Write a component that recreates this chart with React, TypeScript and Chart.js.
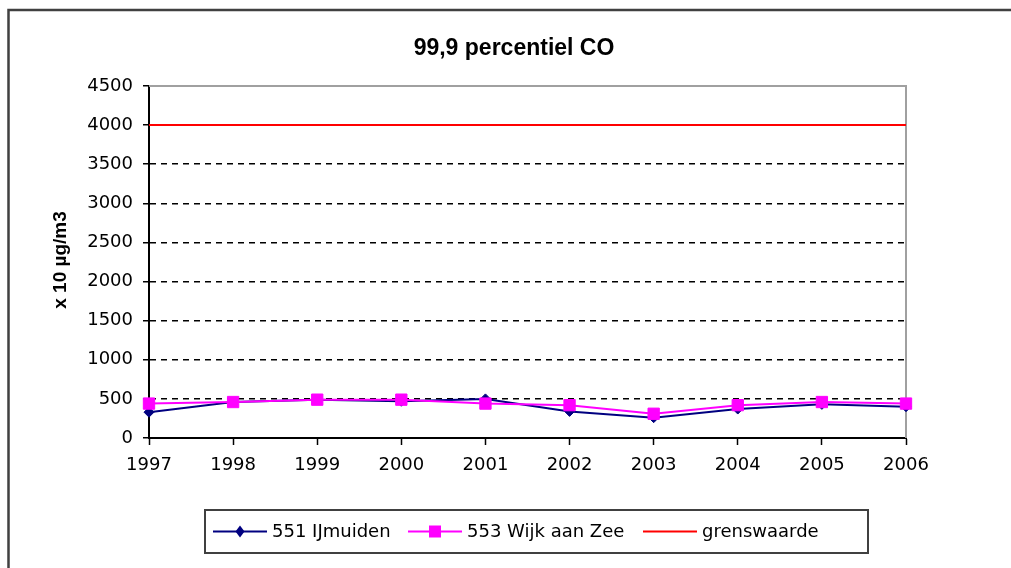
import React, { useEffect, useRef } from "react";
import { Chart, registerables } from "chart.js";

Chart.register(...registerables);

const years = ["1997", "1998", "1999", "2000", "2001", "2002", "2003", "2004", "2005", "2006"];
const ijmuiden = [330, 460, 490, 470, 500, 340, 260, 370, 430, 400];
const wijkAanZee = [440, 460, 490, 490, 440, 420, 310, 420, 460, 440];
const grenswaarde = [4000, 4000, 4000, 4000, 4000, 4000, 4000, 4000, 4000, 4000];
const yTickValues = [0, 500, 1000, 1500, 2000, 2500, 3000, 3500, 4000, 4500];

const chartTitle = "99,9 percentiel CO";
const yAxisTitle = "x 10 µg/m3";

const TICK_FONT = '"DejaVu Sans"';

const decorPlugin = {
  id: "decor",
  beforeDraw(chart: any) {
    const { ctx, width, height } = chart;
    ctx.save();
    ctx.fillStyle = "#ffffff";
    ctx.fillRect(0, 0, width, height);
    ctx.restore();
  },
  beforeDatasetsDraw(chart: any) {
    const { ctx, chartArea: a } = chart;
    ctx.save();
    ctx.strokeStyle = "#a0a0a0";
    ctx.lineWidth = 2;
    ctx.beginPath();
    ctx.moveTo(a.left, a.top);
    ctx.lineTo(a.right, a.top);
    ctx.lineTo(a.right, a.bottom);
    ctx.stroke();
    ctx.restore();
  },
  afterDraw(chart: any) {
    const { ctx, width, height, chartArea: a } = chart;
    ctx.save();
    // outer frame (top and left edges visible)
    ctx.strokeStyle = "#404040";
    ctx.lineWidth = 2.5;
    ctx.beginPath();
    ctx.moveTo(8.5, height + 2);
    ctx.lineTo(8.5, 10);
    ctx.lineTo(width + 2, 10);
    ctx.stroke();

    // title
    ctx.fillStyle = "#000";
    ctx.font = 'bold 23px "Liberation Sans"';
    ctx.textAlign = "center";
    ctx.textBaseline = "middle";
    ctx.fillText(chartTitle, 514, 49);

    // y axis title
    ctx.save();
    ctx.translate(61, (a.top + a.bottom) / 2 - 2);
    ctx.rotate(-Math.PI / 2);
    ctx.font = 'bold 19px "Liberation Sans"';
    ctx.fillText(yAxisTitle, 0, 0);
    ctx.restore();

    // legend
    const box = { left: 205, top: 510, right: 868, bottom: 553 };
    ctx.strokeStyle = "#404040";
    ctx.lineWidth = 2;
    ctx.strokeRect(box.left, box.top, box.right - box.left, box.bottom - box.top);
    const itemX = [213, 408, 643];
    const cy = (box.top + box.bottom) / 2;
    const lineLen = 54;
    ctx.font = "18px " + TICK_FONT;
    ctx.textAlign = "left";
    ctx.textBaseline = "middle";
    chart.data.datasets.forEach((ds: any, i: number) => {
      const x0 = itemX[i];
      ctx.strokeStyle = ds.borderColor;
      ctx.lineWidth = 2;
      ctx.beginPath();
      ctx.moveTo(x0, cy);
      ctx.lineTo(x0 + lineLen, cy);
      ctx.stroke();
      const mx = x0 + lineLen / 2;
      ctx.fillStyle = ds.pointBackgroundColor || ds.borderColor;
      if (ds.pointStyle === "rectRot") {
        const r = 6;
        ctx.beginPath();
        ctx.moveTo(mx, cy - r);
        ctx.lineTo(mx + r * 0.75, cy);
        ctx.lineTo(mx, cy + r);
        ctx.lineTo(mx - r * 0.75, cy);
        ctx.closePath();
        ctx.fill();
      } else if (ds.pointStyle === "rect") {
        ctx.fillRect(mx - 6, cy - 6, 12, 12);
      }
      ctx.fillStyle = "#000";
      ctx.fillText(ds.label, x0 + lineLen + 5, cy + 1);
    });
    ctx.restore();
  },
};

export default function App() {
  const canvasRef = useRef<HTMLCanvasElement | null>(null);

  useEffect(() => {
    if (!canvasRef.current) return;
    const chart = new Chart(canvasRef.current, {
      type: "line",
      data: {
        labels: years,
        datasets: [
          {
            label: "551 IJmuiden",
            data: ijmuiden,
            borderColor: "#000080",
            backgroundColor: "#000080",
            pointBackgroundColor: "#000080",
            pointBorderColor: "#000080",
            borderWidth: 2,
            pointStyle: "rectRot",
            pointRadius: 5,
            pointBorderWidth: 1,
            tension: 0,
            clip: false,
            order: 2,
          } as any,
          {
            label: "553 Wijk aan Zee",
            data: wijkAanZee,
            borderColor: "#ff00ff",
            backgroundColor: "#ff00ff",
            pointBackgroundColor: "#ff00ff",
            pointBorderColor: "#ff00ff",
            borderWidth: 2,
            pointStyle: "rect",
            pointRadius: 8,
            pointBorderWidth: 1,
            tension: 0,
            clip: false,
            order: 1,
          } as any,
          {
            label: "grenswaarde",
            data: grenswaarde,
            borderColor: "#ff0000",
            backgroundColor: "#ff0000",
            borderWidth: 2,
            pointRadius: 0,
            pointStyle: false,
            tension: 0,
            order: 3,
          } as any,
        ],
      },
      options: {
        responsive: false,
        animation: false,
        devicePixelRatio: 1,
        layout: { padding: { left: 18, right: 105, top: 86, bottom: 90 } },
        plugins: {
          legend: { display: false },
          title: { display: false },
          tooltip: { enabled: false },
        },
        scales: {
          x: {
            type: "category",
            offset: false,
            afterFit: (s: any) => {
              s.height = 40;
            },
            grid: {
              drawOnChartArea: false,
              drawTicks: true,
              tickLength: 7,
              tickColor: "#000",
              tickWidth: 1.5,
            },
            border: { display: true, color: "#000", width: 2 },
            ticks: {
              color: "#000",
              font: { family: TICK_FONT, size: 18 },
              padding: 10,
              maxRotation: 0,
              autoSkip: false,
            },
          },
          y: {
            min: 0,
            max: 4500,
            afterFit: (s: any) => {
              s.width = 131;
            },
            afterBuildTicks: (s: any) => {
              s.ticks = yTickValues.map((v) => ({ value: v }));
            },
            grid: {
              color: (c: any) => {
                const v = c.tick ? c.tick.value : 0;
                return v > 0 && v < 4000 ? "#000" : "rgba(0,0,0,0)";
              },
              lineWidth: 1.5,
              drawTicks: true,
              tickLength: 6,
              tickColor: "#000",
              tickWidth: 1.5,
            },
            border: { display: true, color: "#000", width: 2, dash: [6, 5] },
            ticks: {
              color: "#000",
              font: { family: TICK_FONT, size: 18 },
              padding: 10,
              callback: (v: any) => String(v),
            },
          },
        },
      },
      plugins: [decorPlugin],
    });
    return () => chart.destroy();
  }, []);

  return (
    <div style={{ position: "absolute", left: 0, top: 0, width: 1011, height: 568 }}>
      <canvas ref={canvasRef} width={1011} height={568} style={{ display: "block" }} />
    </div>
  );
}
